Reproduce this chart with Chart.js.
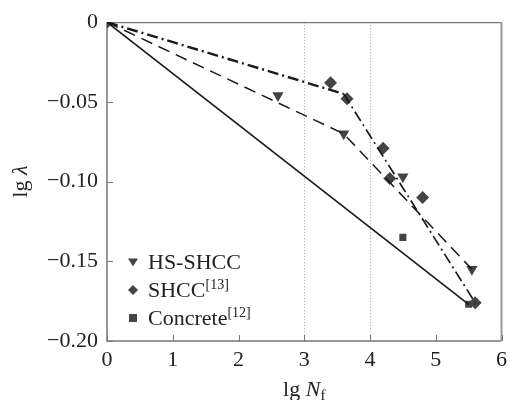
<!DOCTYPE html>
<html>
<head>
<meta charset="utf-8">
<script src="https://cdn.jsdelivr.net/npm/chart.js@4/dist/chart.umd.min.js"></script>
<style>
  html, body { margin: 0; padding: 0; background: #fff; }
  #wrap { width: 513px; height: 400px; }
</style>
</head>
<body>
<div id="wrap"><canvas id="c"></canvas></div>
<script>
// measured points (lg Nf, lg lambda)
const hsX = [0, 2.6, 3.6, 4.5, 5.55];
const hsY = [0, -0.046, -0.070, -0.097, -0.155];
const shccX = [0, 3.4, 3.65, 4.2, 4.3, 4.8, 5.6];
const shccY = [0, -0.038, -0.048, -0.079, -0.098, -0.110, -0.176];
const concX = [0, 4.5, 5.5];
const concY = [0, -0.135, -0.177];

// fitted lines
const hsFitX = [0, 3.6, 5.55];
const hsFitY = [0, -0.070, -0.155];
const shccFitX = [0, 3.6, 5.6];
const shccFitY = [0, -0.045, -0.176];
const concFitX = [0, 5.5];
const concFitY = [0, -0.177];

const refLinesX = [3, 4];

const legendNames = ["HS-SHCC", "SHCC", "Concrete"];
const legendRefs = ["", "[13]", "[12]"];

const FONT = "'Liberation Serif', 'Times New Roman', serif";
const MARK = "#444";
const AXIS = "#777";

const pts = (xs, ys) => xs.map((x, i) => ({ x, y: ys[i] }));

function drawMarker(ctx, kind, x, y, r) {
  ctx.beginPath();
  if (kind === "tri") {
    ctx.moveTo(x - r, y - r * 0.7);
    ctx.lineTo(x + r, y - r * 0.7);
    ctx.lineTo(x, y + r * 0.9);
  } else if (kind === "dia") {
    ctx.moveTo(x, y - r);
    ctx.lineTo(x + r, y);
    ctx.lineTo(x, y + r);
    ctx.lineTo(x - r, y);
  } else {
    ctx.rect(x - r * 0.8, y - r * 0.8, r * 1.6, r * 1.6);
  }
  ctx.closePath();
  ctx.fill();
}

const framePlugin = {
  id: "frame",
  beforeDatasetsDraw(chart) {
    const { ctx, chartArea: a, scales } = chart;
    ctx.save();
    // dotted reference lines
    ctx.strokeStyle = "#aaa";
    ctx.lineWidth = 1;
    ctx.setLineDash([1, 2]);
    refLinesX.forEach(v => {
      const px = Math.round(scales.x.getPixelForValue(v)) + 0.5;
      ctx.beginPath();
      ctx.moveTo(px, a.top);
      ctx.lineTo(px, a.bottom);
      ctx.stroke();
    });
    ctx.setLineDash([]);
    // box
    ctx.strokeStyle = AXIS;
    ctx.lineWidth = 1.5;
    ctx.beginPath();
    ctx.moveTo(a.left, a.top);
    ctx.lineTo(a.left, a.bottom);
    ctx.lineTo(a.right, a.bottom);
    ctx.stroke();
    ctx.strokeStyle = "#555";
    ctx.lineWidth = 1;
    ctx.beginPath();
    ctx.moveTo(a.left, a.top + 0.5);
    ctx.lineTo(a.right, a.top + 0.5);
    ctx.stroke();
    ctx.strokeStyle = "#999";
    ctx.lineWidth = 2;
    ctx.beginPath();
    ctx.moveTo(a.right, a.top);
    ctx.lineTo(a.right, a.bottom);
    ctx.stroke();
    // inward ticks
    ctx.strokeStyle = AXIS;
    ctx.lineWidth = 1;
    scales.y.ticks.forEach(t => {
      const py = Math.round(scales.y.getPixelForValue(t.value)) + 0.5;
      ctx.beginPath();
      ctx.moveTo(a.left, py);
      ctx.lineTo(a.left + 6, py);
      ctx.stroke();
    });
    scales.x.ticks.forEach(t => {
      const px = Math.round(scales.x.getPixelForValue(t.value)) + 0.5;
      ctx.beginPath();
      ctx.moveTo(px, a.bottom);
      ctx.lineTo(px, a.bottom - 6);
      ctx.stroke();
    });
    ctx.restore();
  },
  afterDraw(chart) {
    const { ctx, chartArea: a } = chart;
    ctx.save();
    ctx.fillStyle = "#222";
    ctx.textBaseline = "alphabetic";

    // x title: lg N_f
    const cx = (a.left + a.right) / 2;
    ctx.font = "22px " + FONT;
    const w1 = ctx.measureText("lg ").width;
    ctx.font = "italic 22px " + FONT;
    const w2 = ctx.measureText("N").width;
    ctx.font = "15px " + FONT;
    const w3 = ctx.measureText("f").width;
    let x0 = cx - (w1 + w2 + w3) / 2;
    const by = 396;
    ctx.font = "22px " + FONT;
    ctx.fillText("lg ", x0, by);
    ctx.font = "italic 22px " + FONT;
    ctx.fillText("N", x0 + w1, by);
    ctx.font = "15px " + FONT;
    ctx.fillText("f", x0 + w1 + w2, by + 4);

    // y title: lg lambda
    ctx.translate(27, (a.top + a.bottom) / 2);
    ctx.rotate(-Math.PI / 2);
    ctx.font = "22px " + FONT;
    const v1 = ctx.measureText("lg ").width;
    ctx.font = "italic 22px " + FONT;
    const v2 = ctx.measureText("λ").width;
    const y0 = -(v1 + v2) / 2;
    ctx.font = "22px " + FONT;
    ctx.fillText("lg ", y0, 0);
    ctx.font = "italic 22px " + FONT;
    ctx.fillText("λ", y0 + v1, 0);
    ctx.setTransform(1, 0, 0, 1, 0, 0);

    // legend
    const kinds = ["tri", "dia", "sq"];
    const rowsY = [262, 290, 318];
    legendNames.forEach((name, i) => {
      const ly = rowsY[i];
      ctx.fillStyle = MARK;
      drawMarker(ctx, kinds[i], 133, ly, 5);
      ctx.fillStyle = "#222";
      ctx.font = "22px " + FONT;
      ctx.textBaseline = "middle";
      ctx.fillText(name, 148, ly + 1);
      if (legendRefs[i]) {
        const nw = ctx.measureText(name).width;
        ctx.font = "14px " + FONT;
        ctx.fillText(legendRefs[i], 148 + nw, ly - 5);
      }
    });
    ctx.restore();
  }
};

const lineBase = {
  type: "line",
  showLine: true,
  pointRadius: 0,
  borderColor: "#1a1a1a",
  fill: false,
  tension: 0
};

new Chart(document.getElementById("c"), {
  type: "scatter",
  data: {
    datasets: [
      { ...lineBase, label: "Concrete fit", data: pts(concFitX, concFitY), borderWidth: 1.6 },
      { ...lineBase, label: "HS-SHCC fit", data: pts(hsFitX, hsFitY), borderWidth: 1.5, borderDash: [12, 7] },
      {
        ...lineBase, label: "SHCC fit", data: pts(shccFitX, shccFitY), borderWidth: 2.2, borderDash: [11, 4, 2, 4],
        segment: { borderWidth: c => c.p0DataIndex === 0 ? 2.4 : 1.7 }
      },
      {
        label: "HS-SHCC", data: pts(hsX, hsY),
        pointStyle: "triangle", rotation: 180, pointRadius: 6.5,
        backgroundColor: MARK, borderColor: MARK, borderWidth: 0
      },
      {
        label: "SHCC", data: pts(shccX, shccY),
        pointStyle: "rectRot", pointRadius: 6.5,
        backgroundColor: MARK, borderColor: MARK, borderWidth: 0
      },
      {
        label: "Concrete", data: pts(concX, concY),
        pointStyle: "rect", pointRadius: 5,
        backgroundColor: MARK, borderColor: MARK, borderWidth: 0
      }
    ]
  },
  options: {
    responsive: true,
    maintainAspectRatio: false,
    animation: false,
    layout: { padding: { top: 20, right: 10, left: 0, bottom: 0 } },
    plugins: {
      legend: { display: false },
      tooltip: { enabled: false }
    },
    scales: {
      x: {
        type: "linear",
        min: 0, max: 6,
        ticks: {
          stepSize: 1,
          padding: 6,
          color: "#222",
          font: { family: FONT, size: 22 }
        },
        grid: { display: false, drawTicks: false },
        border: { display: false },
        afterFit(scale) { scale.height = 59; }
      },
      y: {
        type: "linear",
        min: -0.2, max: 0,
        ticks: {
          stepSize: 0.05,
          padding: 9,
          color: "#222",
          font: { family: FONT, size: 22 },
          callback: v => Math.abs(v) < 1e-9 ? "0" : "\u2212" + Math.abs(v).toFixed(2)
        },
        grid: { display: false, drawTicks: false },
        border: { display: false },
        afterFit(scale) { scale.width = 107; }
      }
    }
  },
  plugins: [framePlugin]
});
</script>
</body>
</html>
